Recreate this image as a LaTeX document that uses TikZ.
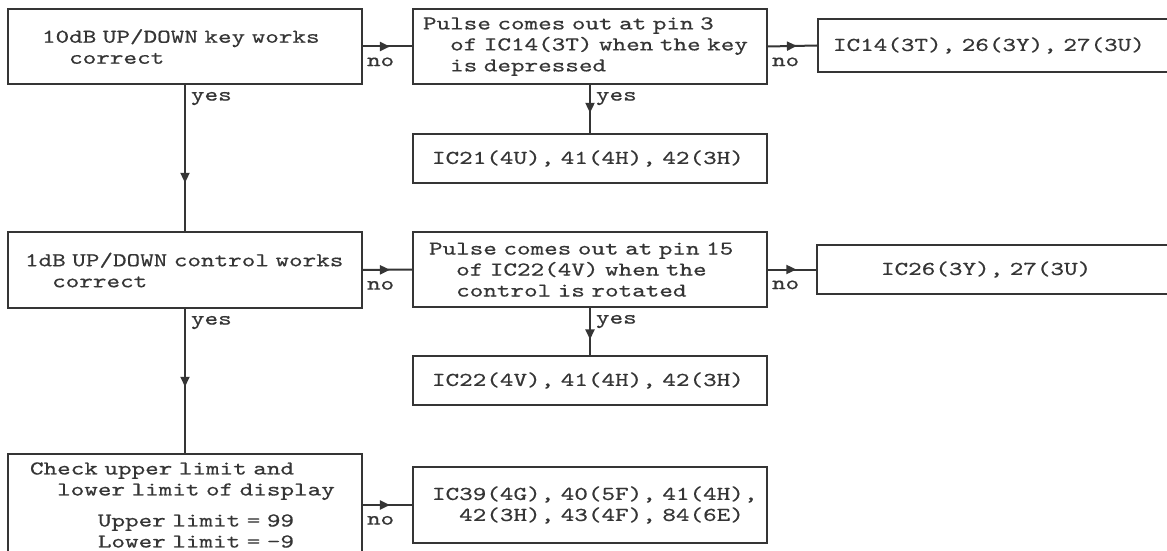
\documentclass[tikz,border=0pt]{standalone}
\usepackage{fontspec}
\usepackage{tikz}
\usetikzlibrary{arrows.meta,positioning,decorations.markings}
\definecolor{ink}{HTML}{353535}
\newfontfamily\typewriter{lmmono10-regular.otf}[FakeStretch=1.32, FakeBold=0.5]
\newcommand{\tw}{\typewriter\fontsize{9.8pt}{10.5pt}\selectfont
  \setbox0\hbox{x}\fontdimen2\font=\wd0\fontdimen3\font=0pt\fontdimen4\font=0pt\frenchspacing}
\newcommand{\ind}{\hphantom{xx}}

\begin{document}
\begin{tikzpicture}[x=0.5pt, y=-0.5pt,
  box/.style={draw=ink, line width=1pt, text=ink, font=\tw, align=left,
    inner xsep=0pt, inner ysep=0pt, text width=177pt},
  pad/.style={execute at begin node={\leftskip=#1\relax}},
  flow/.style={draw=ink, line width=1pt, postaction={decorate},
    decoration={markings, mark=at position #1 with {\arrow{Triangle[length=5pt, width=4.5pt]}}}},
  lbl/.style={font=\tw, text=ink, inner sep=0pt}]
  \useasboundingbox[fill=white] (0,0) rectangle (1167,551);

  \node[box, pad=17pt, minimum height=37.5pt] (keyok) at (185,46.5)
    {10dB UP/DOWN key works\\\ind correct};
  \node[box, pad=5pt, minimum height=37.5pt] (pulsekey) at (590,46.5)
    {Pulse comes out at pin 3\\\ind of IC14(3T) when the key\\\ind is depressed};
  \node[box, pad=7.5pt, minimum height=26.5pt, text width=180pt] (ickey) at (998,45.5)
    {IC14(3T), 26(3Y), 27(3U)};
  \node[box, pad=9.5pt, minimum height=24.5pt] (icdrv) at (590,158.5)
    {IC21(4U), 41(4H), 42(3H)};

  \node[box, pad=8.5pt, minimum height=38pt] (ctrlok) at (185,270)
    {1dB UP/DOWN control works\\\ind correct};
  \node[box, pad=8pt, minimum height=37.5pt] (pulsectrl) at (590,269.5)
    {Pulse comes out at pin 15\\\ind of IC22(4V) when the\\\ind control is rotated};
  \node[box, pad=32pt, minimum height=24.5pt, text width=180pt] (icctrl) at (997,269.5)
    {IC26(3Y), 27(3U)};
  \node[box, pad=9.5pt, minimum height=24.5pt] (icrot) at (590,380.5)
    {IC22(4V), 41(4H), 42(3H)};

  \node[box, pad=11pt, minimum height=51pt] (limits) at (185,505)
    {Check upper limit and\\\ind lower limit of display\\[5pt]%
     \hphantom{xxxxx}Upper limit = 99\\\hphantom{xxxxx}Lower limit = -9};
  \node[box, pad=9.5pt, minimum height=38pt] (icdisp) at (590,505)
    {IC39(4G), 40(5F), 41(4H),\\\ind 42(3H), 43(4F), 84(6E)};

  \draw[flow=0.55] (keyok.east) -- node[lbl, pos=0, below right=5pt and 1.5pt] {no} (pulsekey.west);
  \draw[flow=0.59] (pulsekey.east) -- node[lbl, pos=0, below right=5pt and 1.5pt] {no} (ickey.west);
  \draw[flow=0.58] (pulsekey.south) -- node[lbl, pos=0, below right=3pt and 2.5pt] {yes} (icdrv.north);
  \draw[flow=0.67] (keyok.south) -- node[lbl, pos=0, below right=3pt and 2.5pt] {yes} (ctrlok.north);

  \draw[flow=0.55] (ctrlok.east) -- node[lbl, pos=0, below right=5pt and 1.5pt] {no} (pulsectrl.west);
  \draw[flow=0.59] (pulsectrl.east) -- node[lbl, pos=0, below right=5pt and 1.5pt] {no} (icctrl.west);
  \draw[flow=0.67] (pulsectrl.south) -- node[lbl, pos=0, below right=3pt and 2.5pt] {yes} (icrot.north);
  \draw[flow=0.54] (ctrlok.south) -- node[lbl, pos=0, below right=3pt and 2.5pt] {yes} (limits.north);

  \draw[flow=0.55] (limits.east |- icdisp.west) -- node[lbl, pos=0, below right=5pt and 1.5pt] {no} (icdisp.west);
\end{tikzpicture}
\end{document}
